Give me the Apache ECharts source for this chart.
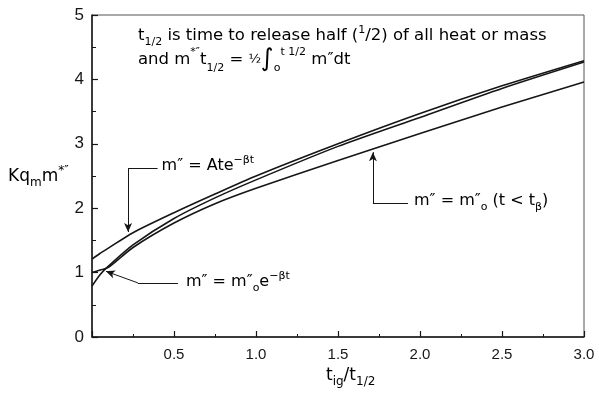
<!DOCTYPE html>
<html>
<head>
<meta charset="utf-8">
<script src="https://cdn.jsdelivr.net/npm/echarts@6/dist/echarts.min.js"></script>
<style>
  html, body { margin: 0; padding: 0; background: #fff; }
  #chart { width: 599px; height: 399px; }
</style>
</head>
<body>
<div id="chart"></div>
<script>
// t_ig / t_1/2 sample positions
const xs = [0, 0.05, 0.1, 0.25, 0.5, 0.75, 1.0, 1.5, 2.0, 2.5, 3.0];
// Kq_m m*'' for the three mass-loss laws
const ateCurve   = [1.21, 1.30, 1.38, 1.62, 1.93, 2.22, 2.50, 3.00, 3.47, 3.90, 4.29];
const expCurve   = [0.79, 0.97, 1.10, 1.43, 1.84, 2.16, 2.44, 2.96, 3.41, 3.86, 4.27];
const constCurve = [1.00, 1.04, 1.08, 1.39, 1.77, 2.07, 2.31, 2.74, 3.16, 3.57, 3.96];
const xTickLabels = { 0.5: '0.5', 1: '1.0', 1.5: '1.5', 2: '2.0', 2.5: '2.5', 3: '3.0' };
const yTickLabels = ['0', '1', '2', '3', '4', '5'];

// leader lines of the callouts, in data units (last segment carries the arrow)
const ateLeader   = [[0.40, 2.62], [0.22, 2.62], [0.22, 1.63]];
const expLeader   = [[0.524, 0.84], [0.28, 0.84], [0.085, 1.02]];
const constLeader = [[1.927, 2.08], [1.713, 2.08], [1.713, 2.87]];

const FONT = '"Liberation Sans", Arial, sans-serif';
const TFONT = '"DejaVu Sans", sans-serif';
const INK = '#161616';

const chart = echarts.init(document.getElementById('chart'));

const pairs = ys => xs.map((x, i) => [x, ys[i]]);

function leaderSegments(pts) {
  const segs = [];
  for (let i = 0; i < pts.length - 1; i++) {
    const last = i === pts.length - 2;
    segs.push([
      { coord: pts[i], symbol: 'none' },
      { coord: pts[i + 1], symbol: last ? 'arrow' : 'none' }
    ]);
  }
  return segs;
}

const curveStyle = { color: INK, width: 1.6 };

chart.setOption({
  animation: false,
  backgroundColor: '#fff',
  grid: { left: 92, right: 15, top: 15, bottom: 62, show: true, borderColor: '#555', borderWidth: 1 },
  xAxis: {
    type: 'value', min: 0, max: 3, interval: 0.5,
    axisLine: { lineStyle: { color: INK, width: 1.5 } },
    axisTick: { inside: true, length: 6, lineStyle: { color: INK, width: 1.2 } },
    minorTick: { show: true, splitNumber: 2, length: 3, lineStyle: { color: INK } },
    splitLine: { show: false },
    axisLabel: {
      color: INK, fontFamily: FONT, fontSize: 15, margin: 10,
      formatter: v => xTickLabels[v] || ''
    }
  },
  yAxis: {
    type: 'value', min: 0, max: 5, interval: 1,
    axisLine: { lineStyle: { color: INK, width: 1.5 } },
    axisTick: { inside: true, length: 6, lineStyle: { color: INK, width: 1.2 } },
    minorTick: { show: true, splitNumber: 2, length: 4, lineStyle: { color: INK } },
    splitLine: { show: false },
    axisLabel: {
      color: INK, fontFamily: FONT, fontSize: 17, margin: 8,
      formatter: v => yTickLabels[v]
    }
  },
  series: [
    {
      name: 'Ate', type: 'line', data: pairs(ateCurve), showSymbol: false,
      smooth: 0.25, lineStyle: curveStyle,
      markLine: {
        silent: true, symbolSize: [6, 9], label: { show: false },
        lineStyle: { color: INK, width: 1, type: 'solid' },
        data: [].concat(leaderSegments(ateLeader), leaderSegments(expLeader), leaderSegments(constLeader))
      }
    },
    {
      name: 'exp', type: 'line', data: pairs(expCurve), showSymbol: false,
      smooth: 0.25, lineStyle: curveStyle
    },
    {
      name: 'const', type: 'line', data: pairs(constCurve), showSymbol: false,
      smooth: 0.25, lineStyle: curveStyle
    }
  ]
});

function makeRich(size) {
  const s = Math.round(size * 0.68);
  return {
    n:   { fontFamily: TFONT, fontSize: size, color: INK, lineHeight: size + 7, verticalAlign: 'middle' },
    sub: { fontFamily: TFONT, fontSize: s, color: INK, lineHeight: s + 1, verticalAlign: 'bottom' },
    sup: { fontFamily: TFONT, fontSize: s, color: INK, lineHeight: s + 1, verticalAlign: 'top' },
    big: { fontFamily: TFONT, fontSize: size + 8, color: INK, lineHeight: size + 10, verticalAlign: 'middle' },
    fr:  { fontFamily: TFONT, fontSize: s + 2, color: INK, lineHeight: size + 7, verticalAlign: 'middle' }
  };
}

function txt(x, y, text, size) {
  return {
    type: 'text', x: x, y: y, silent: true,
    style: { text: text, rich: makeRich(size || 15), align: 'left', verticalAlign: 'middle' }
  };
}

const px = p => chart.convertToPixel({ gridIndex: 0 }, p);
const a = px(ateLeader[0]);
const e = px(expLeader[0]);
const c = px(constLeader[0]);

chart.setOption({
  graphic: [
    txt(138, 36, '{n|t}{sub|1/2}{n| is time to release half (}{sup|1}{n|/2) of all heat or mass}', 16.5),
    txt(138, 60, '{n|and m}{sup|*″}{n|t}{sub|1/2}{n| = }{fr|½}{big|∫}{sub|o}{sup|t 1/2}{n| m″dt}', 16.5),
    txt(a[0] + 4, a[1] - 2, '{n|m″ = Ate}{sup|−βt}', 16),
    txt(e[0] + 8, e[1] - 1, '{n|m″ = m″}{sub|o}{n|e}{sup|−βt}', 16),
    txt(c[0] + 6, c[1] - 2, '{n|m″ = m″}{sub|o}{n| (t < t}{sub|β}{n|)}', 16),
    txt(8, 177, '{n|Kq}{sub|m}{n|m}{sup|*″}', 17),
    txt(326, 376, '{n|t}{sub|ig}{n|/t}{sub|1/2}', 17)
  ]
});
</script>
</body>
</html>
